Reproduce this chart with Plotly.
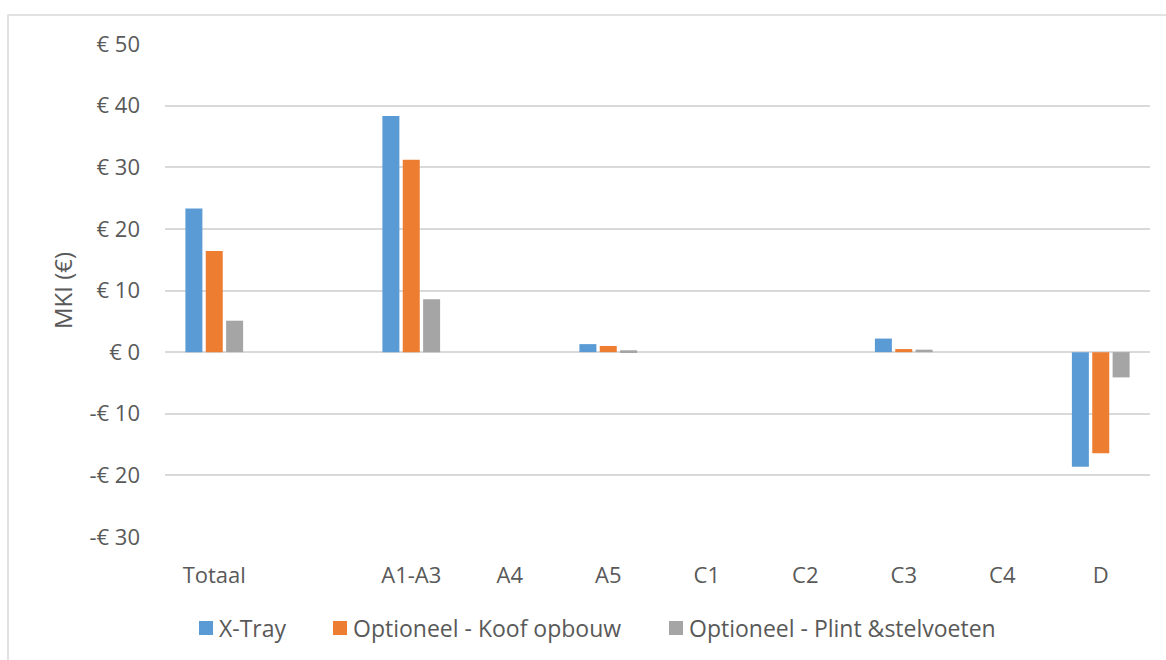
import plotly.graph_objects as go

# Life-cycle stages (the blank entry keeps a spacer between the total and the modules)
stages = ["Totaal", " ", "A1-A3", "A4", "A5", "C1", "C2", "C3", "C4", "D"]

# MKI per stage in euro
x_tray = [23.3, None, 38.3, 0, 1.3, 0, 0, 2.2, 0, -18.6]
koof_opbouw = [16.4, None, 31.2, 0, 1.0, 0, 0, 0.5, 0, -16.4]
plint_stelvoeten = [5.1, None, 8.6, 0, 0.3, 0, 0, 0.4, 0, -4.1]

y_ticks = [-30, -20, -10, 0, 10, 20, 30, 40, 50]
y_tick_text = ["-€ 30", "-€ 20", "-€ 10", "€ 0", "€ 10", "€ 20", "€ 30", "€ 40", "€ 50"]

series = [
    ("X-Tray", x_tray, "#5B9BD5"),
    ("Optioneel - Koof opbouw", koof_opbouw, "#ED7D31"),
    ("Optioneel - Plint &stelvoeten", plint_stelvoeten, "#A5A5A5"),
]

FONT = "Open Sans"
TEXT = "#595959"
GRID = "#D9D9D9"

W, H = 1166, 660
L, R, T, B = 165, 16, 44, 123
PW, PH = W - L - R, H - T - B


def px(x):
    """Pixel column -> paper x."""
    return (x - L) / PW


def py(y):
    """Pixel row -> paper y."""
    return (H - B - y) / PH


fig = go.Figure()
for name, values, color in series:
    fig.add_trace(go.Bar(
        name=name, x=stages, y=values,
        marker=dict(color=color, line=dict(width=0)),
        showlegend=False,
    ))

fig.update_layout(
    width=W, height=H,
    margin=dict(l=L, r=R, t=T, b=B, autoexpand=False),
    paper_bgcolor="white", plot_bgcolor="white",
    barmode="group", bargap=0.38, bargroupgap=0.165,
    font=dict(family=FONT, color=TEXT, size=22),
)

fig.update_xaxes(
    type="category", categoryorder="array", categoryarray=stages,
    showgrid=False, showline=False, zeroline=False,
    ticks="", ticklabelstandoff=23,
    tickfont=dict(family=FONT, size=22, color=TEXT),
)
fig.update_yaxes(
    range=[-30, 50], tickvals=y_ticks, ticktext=y_tick_text,
    showgrid=True, gridcolor=GRID, gridwidth=1.5,
    zeroline=True, zerolinecolor=GRID, zerolinewidth=1.5,
    showline=False, ticks="", ticklabelstandoff=24,
    tickfont=dict(family=FONT, size=22, color=TEXT),
    title=dict(text="MKI (€)", font=dict(family=FONT, size=24, color=TEXT), standoff=10),
)

# Legend row below the axis: colour key square followed by the series name
legend_x = [199, 333, 669]
legend_y = 628
for (name, _, color), x0 in zip(series, legend_x):
    fig.add_shape(
        type="rect", xref="paper", yref="paper",
        x0=px(x0), x1=px(x0 + 14), y0=py(legend_y + 7), y1=py(legend_y - 7),
        line=dict(width=0), fillcolor=color,
    )
    fig.add_annotation(
        text=name, xref="paper", yref="paper",
        x=px(x0 + 18), y=py(legend_y), xanchor="left", yanchor="middle",
        showarrow=False, font=dict(family=FONT, size=23, color=TEXT),
    )

# Chart-area border
fig.add_shape(
    type="rect", xref="paper", yref="paper",
    x0=px(8), x1=px(W + 10), y0=py(H + 10), y1=py(15),
    line=dict(color=GRID, width=1.5), fillcolor="rgba(0,0,0,0)", layer="below",
)

fig.write_html("out.html")
